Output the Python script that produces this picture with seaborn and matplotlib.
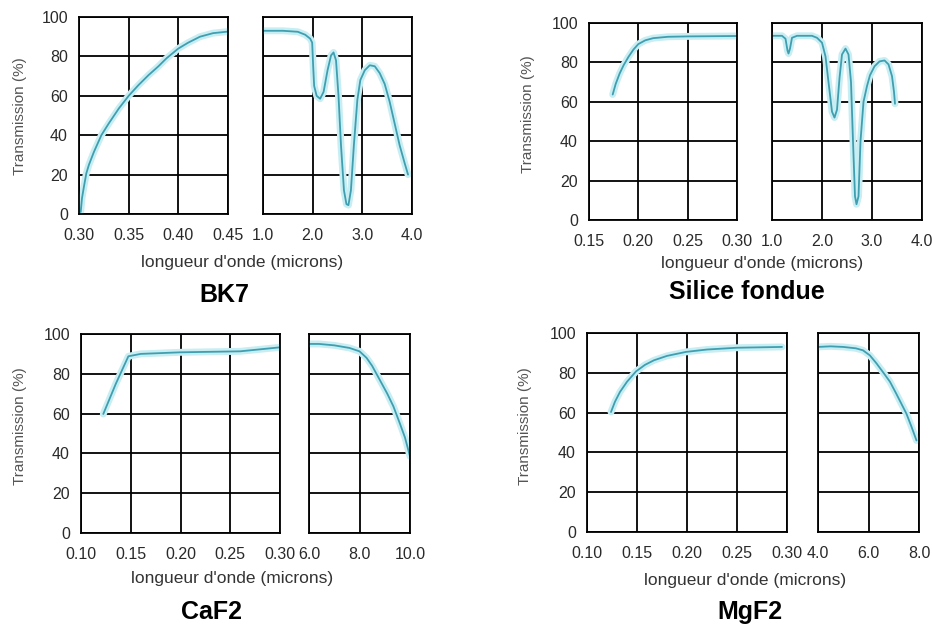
import matplotlib
matplotlib.use("Agg")
import matplotlib.pyplot as plt
import seaborn as sns

# --- données (longueur d'onde en microns, transmission en %) ---
bk7_uv_x = [0.3017, 0.303, 0.305, 0.3074, 0.31, 0.315, 0.3225, 0.33, 0.34, 0.35, 0.36,
            0.37, 0.38, 0.388, 0.40, 0.41, 0.4218, 0.435, 0.45]
bk7_uv_y = [1, 8, 14, 20.7, 25, 31.5, 40, 46, 53.5, 60, 65.5, 70.5, 75, 79, 84, 87, 90, 91.8, 92.6]
bk7_ir_x = [1.0, 1.4, 1.7, 1.85, 1.95, 1.99, 2.01, 2.03, 2.08, 2.15, 2.22, 2.3, 2.37, 2.42,
            2.47, 2.52, 2.57, 2.63, 2.68, 2.72, 2.77, 2.83, 2.9, 2.96, 3.05, 3.15, 3.25,
            3.35, 3.45, 3.55, 3.65, 3.75, 3.85, 3.92]
bk7_ir_y = [93, 93, 92.5, 91, 89, 87, 75, 65, 60, 58.5, 62, 73, 80.5, 82, 78, 60, 35, 12, 5,
            4.5, 12, 35, 58, 68, 73, 75.5, 75, 71.5, 66, 57, 46, 35, 26, 20]

silice_uv_x = [0.174, 0.177, 0.181, 0.185, 0.19, 0.195, 0.20, 0.207, 0.215, 0.23, 0.25, 0.30]
silice_uv_y = [63.7, 69, 74.3, 78.5, 82.8, 86.5, 89.3, 91.2, 92.3, 93, 93.2, 93.4]
silice_ir_x = [1.0, 1.2, 1.27, 1.31, 1.33, 1.36, 1.4, 1.5, 1.8, 1.9, 2.0, 2.07, 2.13, 2.2,
               2.25, 2.3, 2.35, 2.4, 2.47, 2.53, 2.58, 2.62, 2.66, 2.69, 2.73, 2.77, 2.83,
               2.9, 2.96, 3.05, 3.15, 3.25, 3.33, 3.4, 3.44, 3.46]
silice_ir_y = [93.5, 93.5, 92, 86, 84.5, 87, 92.5, 93.5, 93.5, 92.5, 90, 83, 70, 55, 52, 56,
               72, 84, 87, 84, 70, 40, 12, 8, 12, 40, 60, 68, 73.5, 78, 80.5, 81, 79, 73, 65, 59]

caf2_uv_x = [0.1224, 0.135, 0.1476, 0.16, 0.20, 0.26, 0.30]
caf2_uv_y = [59.8, 75, 88.8, 90, 90.8, 91.3, 93.3]
caf2_ir_x = [6.0, 6.4, 7.0, 7.6, 8.0, 8.28, 8.5, 8.8, 9.1, 9.34, 9.6, 9.8, 10.0]
caf2_ir_y = [95, 95, 94.3, 93, 91.3, 88, 84, 77, 70, 63.7, 55, 48, 38.5]

mgf2_uv_x = [0.124, 0.128, 0.133, 0.14, 0.149, 0.158, 0.167, 0.18, 0.199, 0.22, 0.25, 0.295]
mgf2_uv_y = [60.3, 65.5, 70.4, 75.5, 80.7, 84, 86.3, 88.5, 90.5, 91.7, 92.6, 93]
mgf2_ir_x = [4.0, 4.5, 5.0, 5.5, 5.78, 6.05, 6.3, 6.57, 6.85, 7.1, 7.3, 7.5, 7.7, 7.9]
mgf2_ir_y = [93, 93.3, 93, 92.3, 91.3, 88.8, 85, 80.4, 75.5, 69.5, 64.5, 59.5, 53, 46]

# graduations
bk7_uv_ticks = [0.30, 0.35, 0.40, 0.45]
bk7_ir_ticks = [1.0, 2.0, 3.0, 4.0]
silice_uv_ticks = [0.15, 0.20, 0.25, 0.30]
silice_ir_ticks = [1.0, 2.0, 3.0, 4.0]
caf2_uv_ticks = [0.10, 0.15, 0.20, 0.25, 0.30]
caf2_ir_ticks = [6.0, 8.0, 10.0]
mgf2_uv_ticks = [0.10, 0.15, 0.20, 0.25, 0.30]
mgf2_ir_ticks = [4.0, 6.0, 8.0]
y_ticks = [0, 20, 40, 60, 80, 100]

sns.set_theme(style="white")
plt.rcParams['font.family'] = ['Liberation Sans', 'DejaVu Sans']

W, H = 932, 628
fig = plt.figure(figsize=(W / 100, H / 100), dpi=100)
fig.patch.set_facecolor('white')


def px_axes(x0, x1, y0, y1):
    return fig.add_axes([x0 / W, 1 - y1 / H, (x1 - x0) / W, (y1 - y0) / H])


def draw(ax, xs, ys, ticks, fmt, first):
    sns.lineplot(x=xs, y=ys, ax=ax, color='#c8eef3', lw=5, estimator=None)
    sns.lineplot(x=xs, y=ys, ax=ax, color='#3f9fb0', lw=1.3, estimator=None)
    ax.set_xlim(ticks[0], ticks[-1])
    ax.set_ylim(0, 100)
    ax.set_xticks(ticks)
    ax.set_xticklabels([fmt.format(t) for t in ticks])
    ax.set_yticks(y_ticks)
    if not first:
        ax.set_yticklabels([])
    ax.grid(True, color='black', lw=1.3)
    for s in ax.spines.values():
        s.set_color('black')
        s.set_linewidth(1.3)
        s.set_visible(True)
    ax.tick_params(axis='x', length=0, pad=10, labelsize=11.5, labelcolor='#2a2a2a')
    ax.tick_params(axis='y', length=0, pad=8, labelsize=11.5, labelcolor='#2a2a2a')
    ax.set_xlabel('')
    ax.set_ylabel('')


panels = [
    # nom, uv data, ir data, positions px, centres textes
    ('BK7', bk7_uv_x, bk7_uv_y, bk7_uv_ticks, '{:.2f}', bk7_ir_x, bk7_ir_y, bk7_ir_ticks,
     (79, 228, 263, 412, 17, 214), (20, 116), (242, 262), (224, 295)),
    ('Silice fondue', silice_uv_x, silice_uv_y, silice_uv_ticks, '{:.2f}', silice_ir_x, silice_ir_y,
     silice_ir_ticks, (589, 737, 772, 922, 23, 220), (528, 114), (762, 263), (747, 292)),
    ('CaF2', caf2_uv_x, caf2_uv_y, caf2_uv_ticks, '{:.2f}', caf2_ir_x, caf2_ir_y, caf2_ir_ticks,
     (81, 280, 309, 410, 334, 533), (20, 426), (232, 578), (211, 612)),
    ('MgF2', mgf2_uv_x, mgf2_uv_y, mgf2_uv_ticks, '{:.2f}', mgf2_ir_x, mgf2_ir_y, mgf2_ir_ticks,
     (587, 787, 818, 919, 333, 532), (525, 426), (745, 580), (750, 612)),
]

for name, ux, uy, ut, fmt, ix, iy, it, pos, ylab, xlab, tit in panels:
    a1 = px_axes(pos[0], pos[1], pos[4], pos[5])
    a2 = px_axes(pos[2], pos[3], pos[4], pos[5])
    draw(a1, ux, uy, ut, fmt, True)
    draw(a2, ix, iy, it, '{:.1f}', False)
    fig.text(ylab[0] / W, 1 - ylab[1] / H, 'Transmission (%)', rotation=90,
             ha='center', va='center', fontsize=11, color='#555555')
    fig.text(xlab[0] / W, 1 - xlab[1] / H, "longueur d'onde (microns)",
             ha='center', va='center', fontsize=12.5, color='#333333')
    fig.text(tit[0] / W, 1 - tit[1] / H, name, ha='center', va='center',
             fontsize=18, fontweight='bold', color='black')

fig.savefig('out.png', dpi=100, facecolor='white')
